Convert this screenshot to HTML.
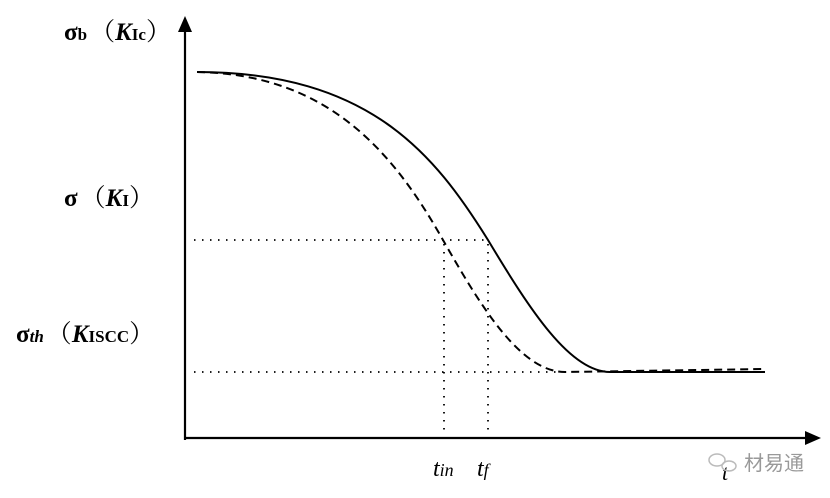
<!DOCTYPE html>
<html><head><style>body{margin:0;background:#fff}svg{display:block}</style></head><body>
<svg width="830" height="498" viewBox="0 0 830 498" xmlns="http://www.w3.org/2000/svg">
<rect width="830" height="498" fill="#fff"/>
<g stroke="#000" stroke-width="2.2" fill="none">
<line x1="185" y1="440" x2="185" y2="26"/>
<line x1="184" y1="438" x2="808" y2="438"/>
</g>
<polygon points="185,16 178,32 192,32" fill="#000"/>
<polygon points="821,438 805,431 805,445" fill="#000"/>
<g stroke="#000" stroke-width="1.8" stroke-dasharray="1.5,6.5" fill="none">
<line x1="194" y1="240" x2="488" y2="240"/>
<line x1="194" y1="372" x2="560" y2="372"/>
<line x1="444" y1="244" x2="444" y2="434"/>
<line x1="488" y1="244" x2="488" y2="434"/>
</g>
<path d="M197,72 C370,72 435,155 488,240 C530,310 570,372 610,372 L765,372" stroke="#000" stroke-width="2" fill="none"/>
<path d="M197,72 C330,74 395,155 443,240 C480,305 520,372 565,372 L765,369" stroke="#000" stroke-width="2" stroke-dasharray="8,5" fill="none"/>
<g font-family="Liberation Serif, serif" font-weight="bold" fill="#000">
<text x="64" y="40" font-size="25">σ<tspan font-size="17">b</tspan><tspan font-family="Noto Serif CJK SC, serif" font-weight="normal" dx="3">（</tspan><tspan font-style="italic">K</tspan><tspan font-size="17">Ic</tspan><tspan font-family="Noto Serif CJK SC, serif" font-weight="normal">）</tspan></text>
<text x="64" y="206" font-size="25">σ<tspan font-family="Noto Serif CJK SC, serif" font-weight="normal" dx="3">（</tspan><tspan font-style="italic">K</tspan><tspan font-size="17">I</tspan><tspan font-family="Noto Serif CJK SC, serif" font-weight="normal">）</tspan></text>
<text x="16" y="342" font-size="25">σ<tspan font-size="17" font-style="italic">th</tspan><tspan font-family="Noto Serif CJK SC, serif" font-weight="normal" dx="3">（</tspan><tspan font-style="italic">K</tspan><tspan font-size="17">ISCC</tspan><tspan font-family="Noto Serif CJK SC, serif" font-weight="normal">）</tspan></text>
</g>
<g font-family="Liberation Serif, serif" font-style="italic" font-size="24" fill="#000">
<text x="433" y="476">t<tspan font-size="18">in</tspan></text>
<text x="477" y="476">t<tspan font-size="18">f</tspan></text>
<text x="722" y="480" font-size="22">t</text>
</g>
<text x="744" y="470" font-family="WenQuanYi Zen Hei, sans-serif" font-size="20" fill="#999">材易通</text>
<g fill="none" stroke="#bbb" stroke-width="1.5"><ellipse cx="717" cy="460" rx="8" ry="6"/><ellipse cx="729" cy="466" rx="7" ry="5"/></g>
</svg>
</body></html>
